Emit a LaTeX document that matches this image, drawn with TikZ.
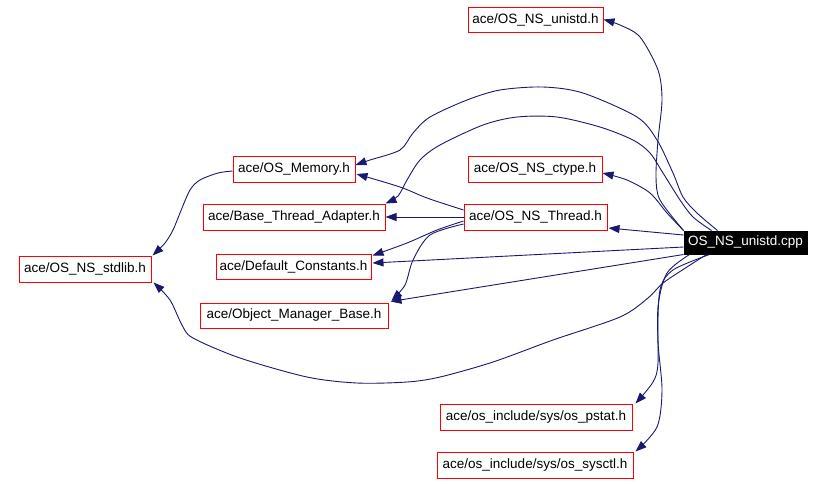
\documentclass[tikz,border=0pt]{standalone}
\usepackage{fontspec}
\setmainfont{Liberation Sans}
\usetikzlibrary{arrows.meta}
\definecolor{edgeblue}{HTML}{191970}
\begin{document}
\begin{tikzpicture}[x=1pt,y=-1pt,
  box/.style={draw=red, line width=1pt, inner sep=0pt, fill=white, text=black,
    font=\fontsize{13.5}{16}\selectfont},
  rootbox/.style={draw=black, fill=black, text=white, line width=1pt, inner sep=0pt,
    font=\fontsize{13.5}{16}\selectfont},
  edge/.style={draw=edgeblue, line width=0.9pt, -{Triangle[length=11pt,width=8pt]}},
]
\useasboundingbox[fill=white] (0,0) rectangle (824,483);

\node[box, minimum width=135pt, minimum height=25pt] (unistdh) at (535.5,19.5) {ace/OS\_NS\_unistd.h};
\node[box, minimum width=134pt, minimum height=26pt] (ctype) at (535,169) {ace/OS\_NS\_ctype.h};
\node[box, minimum width=143pt, minimum height=26pt] (thread) at (535.5,217) {ace/OS\_NS\_Thread.h};
\node[rootbox, minimum width=123pt, minimum height=23pt] (cpp) at (745.5,242.5) {OS\_NS\_unistd.cpp};
\node[box, minimum width=122pt, minimum height=26pt] (memory) at (294,169) {ace/OS\_Memory.h};
\node[box, minimum width=182pt, minimum height=26pt] (bta) at (294,217) {ace/Base\_Thread\_Adapter.h};
\node[box, minimum width=155pt, minimum height=25pt] (defc) at (293.5,266.5) {ace/Default\_Constants.h};
\node[box, minimum width=188pt, minimum height=25pt] (omb) at (294,315.5) {ace/Object\_Manager\_Base.h};
\node[box, minimum width=132pt, minimum height=26pt] (stdlib) at (85,269) {ace/OS\_NS\_stdlib.h};
\node[box, minimum width=192pt, minimum height=26pt] (pstat) at (536,417) {ace/os\_include/sys/os\_pstat.h};
\node[box, minimum width=196pt, minimum height=26pt] (sysctl) at (535,465) {ace/os\_include/sys/os\_sysctl.h};

% edges from OS_NS_unistd.cpp
\draw[edge] plot[smooth] coordinates {(cpp.north west) (660,200) (656,177) (658,140) (662,100) (658,70) (640,37) (620,25) (unistdh.east)};
\draw[edge] plot[smooth] coordinates {([xshift=34pt]cpp.north west) (697,213) (683,197) (673,173) (657,140) (637,117) (583,93) (543,87) (500,90) (467,100) (430,117) (413,133) (400,150) (370,160) ([yshift=4pt]memory.east)};
\draw[edge] plot[smooth] coordinates {([xshift=28pt]cpp.north west) (693,217) (680,200) (663,173) (650,153) (633,140) (600,127) (557,117) (517,117) (483,125) (440,145) (420,160) (407,180) (398,196) (bta.north east)};
\draw[edge] plot[smooth] coordinates {(cpp.north west) (667,213) (650,193) (627,180) ([yshift=-4pt]ctype.east)};
\draw[edge] ([yshift=7.5pt]cpp.west) -- ([xshift=1pt,yshift=-11pt]thread.east);
\draw[edge] ([yshift=-4.5pt]cpp.west) -- ([xshift=1pt,yshift=3.5pt]defc.east);
\draw[edge] (cpp.south west) -- ([xshift=2pt,yshift=1pt]omb.north east);
\draw[edge] plot[smooth] coordinates {([xshift=23pt]cpp.south west) (687,267) (663,283) (648,298) (620,317) (553,340) (493,362) (440,377) (407,382) (357,383) (307,377) (240,358) (193,338) (182,325) (170,300) ([xshift=2pt]stdlib.south east)};
\draw[edge] plot[smooth] coordinates {([xshift=6pt]cpp.south west) (667,273) (658,307) (658,363) (653,382) ([xshift=3pt]pstat.north east)};
\draw[edge] plot[smooth] coordinates {([xshift=26pt]cpp.south west) (673,270) (660,290) (658,340) (662,390) (657,427) ([xshift=2pt]sysctl.north east)};

% edges from ace/OS_NS_Thread.h
\draw[edge] plot[smooth] coordinates {([yshift=7pt]thread.west) (427,198) (400,187) ([xshift=1pt,yshift=-5pt]memory.east)};
\draw[edge] (thread.west) -- (bta.east);
\draw[edge] plot[smooth] coordinates {([yshift=-4pt]thread.west) (437,230) (407,243) ([xshift=1pt,yshift=-2pt]defc.north east)};
\draw[edge] plot[smooth] coordinates {([yshift=-7pt]thread.west) (430,235) (413,260) (405,285) ([xshift=3pt,yshift=2pt]omb.north east)};

% edge from ace/OS_Memory.h
\draw[edge] plot[smooth] coordinates {([yshift=-2pt]memory.west) (218,173) (200,180) (190,190) (180,213) (173,230) (165,243) ([xshift=1pt]stdlib.north east)};
\end{tikzpicture}
\end{document}
